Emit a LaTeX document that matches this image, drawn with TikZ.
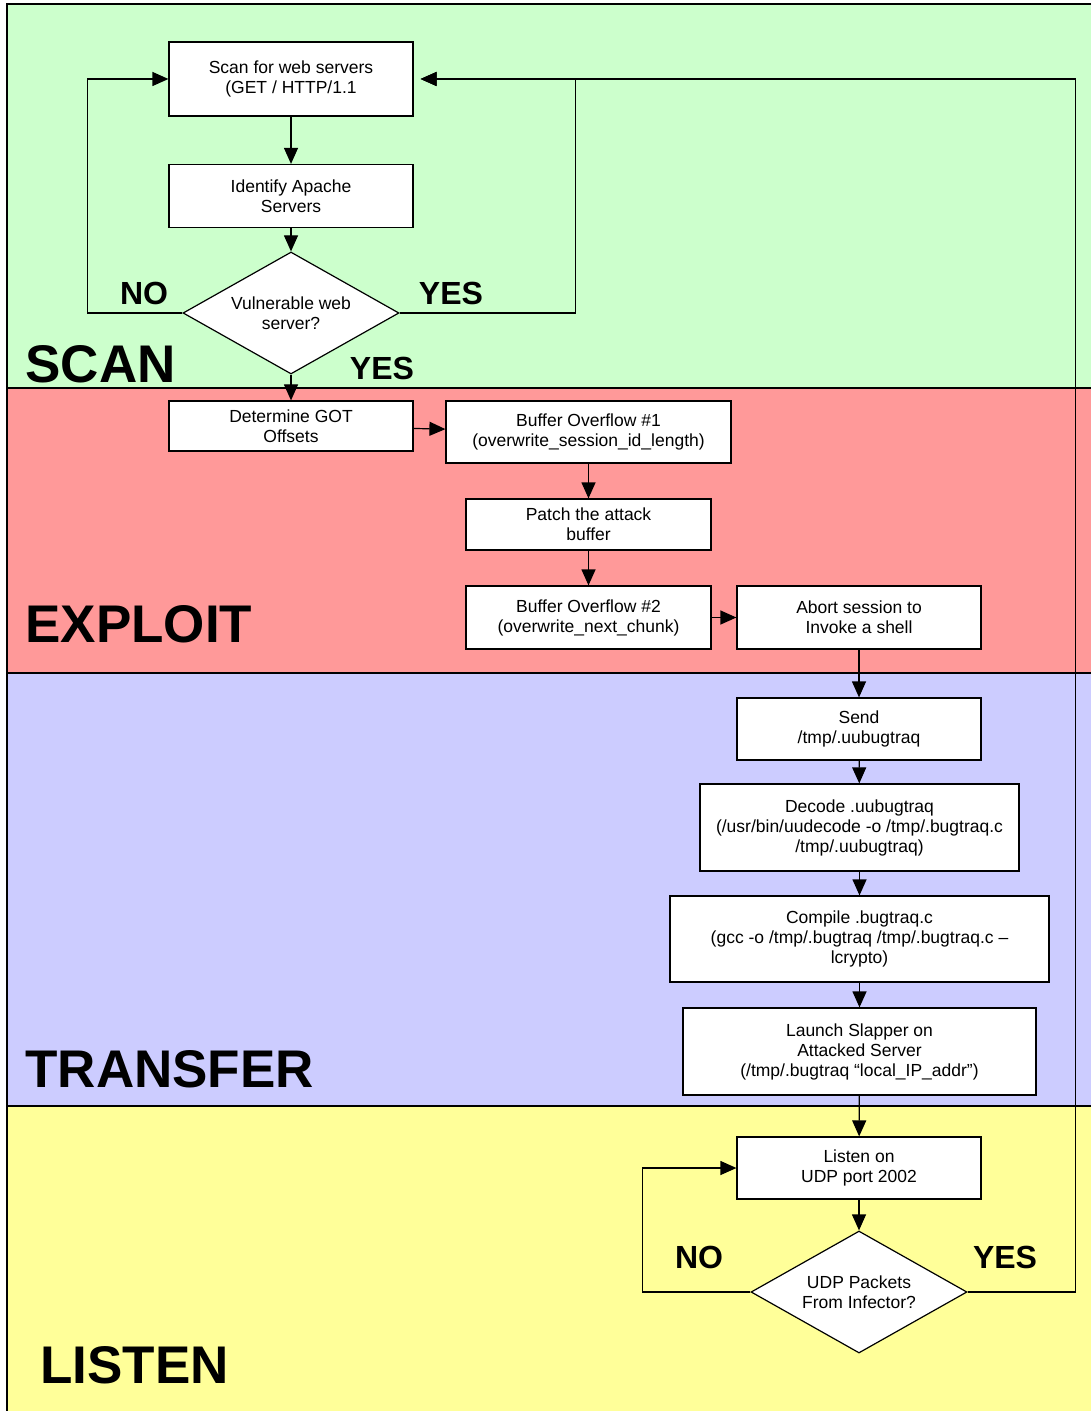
\documentclass[tikz,border=0pt]{standalone}
\usepackage{fontspec}
\setmainfont{Liberation Sans}
\usetikzlibrary{shapes.geometric,arrows.meta}
\definecolor{scangreen}{HTML}{CCFFCC}
\definecolor{exploitred}{HTML}{FF9999}
\definecolor{transferblue}{HTML}{CCCCFF}
\definecolor{listenyellow}{HTML}{FFFF99}
\tikzstyle{box}=[rectangle,fill=white,draw=black,line width=0.6pt,inner sep=0pt,align=center,font=\fontsize{8.75}{10}\selectfont]
\tikzstyle{decision}=[diamond,aspect=1.77,fill=white,draw=black,line width=0.6pt,inner sep=0pt,align=center,minimum width=108pt,minimum height=61pt,font=\fontsize{8.75}{10}\selectfont]
\tikzstyle{arr}=[line width=0.6pt,-{Triangle[length=8pt,width=7pt]}]
\tikzstyle{phase}=[anchor=base west,inner sep=0pt,font=\fontsize{26.5}{30}\selectfont\bfseries]
\tikzstyle{answer}=[anchor=base,inner sep=0pt,font=\fontsize{16}{18}\selectfont\bfseries]
\newcommand{\drawlanes}[0]
{
  \fill[scangreen] (7,4) rectangle (1091,388);
  \fill[exploitred] (7,388) rectangle (1091,673);
  \fill[transferblue] (7,673) rectangle (1091,1106);
  \fill[listenyellow] (7,1106) rectangle (1091,1411);
  \draw[line width=0.6pt] (1091,4) -- (7,4) -- (7,1411);
  \draw[line width=0.6pt] (7,388) -- (1091,388);
  \draw[line width=0.6pt] (7,673) -- (1091,673);
  \draw[line width=0.6pt] (7,1106) -- (1091,1106);
}

\begin{document}
\begin{tikzpicture}[x=0.5pt,y=-0.5pt]
	\useasboundingbox (0,0) rectangle (1091,1411);
	\drawlanes{}

	\node[phase] (scanlbl) at (25,383) {SCAN};
	\node[phase] (exploitlbl) at (25,642) {EXPLOIT};
	\node[phase] (transferlbl) at (25,1087) {TRANSFER};
	\node[phase] (listenlbl) at (40,1383) {LISTEN};

	% scan
	\node[box, minimum width=122pt, minimum height=37pt](scan) at (291,79){Scan for web servers\\(GET / HTTP/1.1};
	\node[box, minimum width=122pt, minimum height=31.5pt](ident) at (291,196){Identify Apache\\Servers};
	\node[decision](vuln) at (291,313){Vulnerable web\\server?};

	% exploit
	\node[box, minimum width=122pt, minimum height=25pt](got) at (291,426){Determine GOT\\Offsets};
	\node[box, minimum width=142.5pt, minimum height=31pt](bo1) at (588.5,432){Buffer Overflow \#1\\(overwrite\_session\_id\_length)};
	\node[box, minimum width=122.5pt, minimum height=25.5pt](patch) at (588.5,524.5){Patch the attack\\buffer};
	\node[box, minimum width=122.5pt, minimum height=31.5pt](bo2) at (588.5,617.5){Buffer Overflow \#2\\(overwrite\_next\_chunk)};
	\node[box, minimum width=122pt, minimum height=31.5pt](abort) at (859,617.5){Abort session to\\Invoke a shell};

	% transfer
	\node[box, minimum width=122pt, minimum height=31pt](send) at (859,729){Send\\/tmp/.uubugtraq};
	\node[box, minimum width=159.5pt, minimum height=43.5pt](decode) at (859.5,827.5){Decode .uubugtraq\\(/usr/bin/uudecode -o /tmp/.bugtraq.c\\/tmp/.uubugtraq)};
	\node[box, minimum width=189.5pt, minimum height=43pt](compile) at (859.5,939){Compile .bugtraq.c\\(gcc -o /tmp/.bugtraq /tmp/.bugtraq.c --\\lcrypto)};
	\node[box, minimum width=176.5pt, minimum height=43.5pt](launch) at (859.5,1051.5){Launch Slapper on\\Attacked Server\\(/tmp/.bugtraq ``local\_IP\_addr'')};

	% listen
	\node[box, minimum width=122pt, minimum height=31pt](listen) at (859,1168){Listen on\\UDP port 2002};
	\node[decision](udp) at (859,1292){UDP Packets\\From Infector?};

	\draw[arr] (scan) -- (ident);
	\draw[arr] (ident) -- (vuln);
	\draw[arr] (vuln.west) -- ++(-95,0) |- (scan.west);
	\draw[arr] (vuln.east) -- ++(176,0) |- ([xshift=3.5pt]scan.east);
	\draw[arr] (vuln) -- (got);
	\draw[arr] (got) -- (bo1);
	\draw[arr] (bo1) -- (patch);
	\draw[arr] (patch) -- (bo2);
	\draw[arr] (bo2) -- (abort);
	\draw[arr] (abort) -- (send);
	\draw[arr] (send) -- (decode);
	\draw[arr] (decode) -- (compile);
	\draw[arr] (compile) -- (launch);
	\draw[arr] (launch) -- (listen);
	\draw[arr] (listen) -- (udp);
	\draw[arr] (udp.west) -- ++(-108,0) |- (listen.west);
	\draw[arr] (udp.east) -- ++(108,0) |- ([xshift=3.5pt]scan.east);

	\node[answer] (no1) at (144,305) {NO};
	\node[answer] (yes1) at (451,305) {YES};
	\node[answer] (yes2) at (382,380) {YES};
	\node[answer] (no2) at (699,1268) {NO};
	\node[answer] (yes3) at (1005,1268) {YES};

\end{tikzpicture}
\end{document}
